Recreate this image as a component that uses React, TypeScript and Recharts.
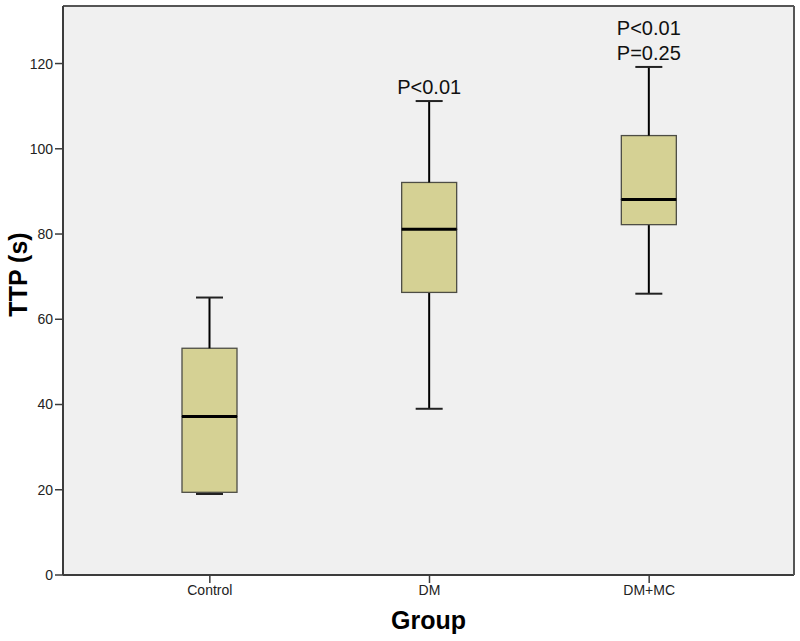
import React from "react";
import {
  ComposedChart,
  Bar,
  XAxis,
  YAxis,
  CartesianGrid,
} from "recharts";

const categories = ["Control", "DM", "DM+MC"];
const lowerWhisker = [19, 39, 66];
const q1 = [19.4, 66.3, 82.2];
const median = [37.2, 81.1, 88.1];
const q3 = [53.2, 92.1, 103.1];
const upperWhisker = [65.1, 111.2, 119.2];
const annotations: string[][] = [[], ["P<0.01"], ["P<0.01", "P=0.25"]];
const yTicks = [0, 20, 40, 60, 80, 100, 120];
const yLabel = "TTP (s)";
const xLabel = "Group";

const data = categories.map((name, i) => ({
  name,
  base: lowerWhisker[i],
  lowW: q1[i] - lowerWhisker[i],
  boxLow: median[i] - q1[i],
  boxHigh: q3[i] - median[i],
  highW: upperWhisker[i] - q3[i],
  idx: i,
}));

const FONT = "'Liberation Sans', Arial, Helvetica, sans-serif";
const BOX_FILL = "#d5d194";
const BOX_STROKE = "#4d4d45";
const CAP = 27;

const LowWhisker = (p: any) => {
  const { x, y, width, height } = p;
  if (x == null || y == null) return null;
  const cx = x + width / 2;
  const yb = y + height;
  return (
    <g>
      <line x1={cx} x2={cx} y1={y} y2={yb} stroke="#000" strokeWidth={2} />
      <line x1={cx - CAP / 2} x2={cx + CAP / 2} y1={yb} y2={yb} stroke="#222" strokeWidth={2} />
    </g>
  );
};

const BoxLow = (p: any) => {
  const { x, y, width, height } = p;
  if (x == null || y == null) return null;
  return (
    <rect x={x} y={y} width={width} height={height} fill={BOX_FILL} stroke={BOX_STROKE} strokeWidth={1.3} />
  );
};

const BoxHigh = (p: any) => {
  const { x, y, width, height } = p;
  if (x == null || y == null) return null;
  const yb = y + height;
  return (
    <g>
      <rect x={x} y={y} width={width} height={height} fill={BOX_FILL} stroke={BOX_STROKE} strokeWidth={1.3} />
      <line x1={x} x2={x + width} y1={yb} y2={yb} stroke="#000" strokeWidth={3} />
    </g>
  );
};

const HighWhisker = (p: any) => {
  const { x, y, width, height } = p;
  if (x == null || y == null) return null;
  const cx = x + width / 2;
  const idx = p.payload && p.payload.idx != null ? p.payload.idx : p.index;
  const notes = annotations[idx] || [];
  return (
    <g>
      <line x1={cx} x2={cx} y1={y} y2={y + height} stroke="#000" strokeWidth={2} />
      <line x1={cx - CAP / 2} x2={cx + CAP / 2} y1={y} y2={y} stroke="#222" strokeWidth={2} />
      {notes.map((t, k) => (
        <text
          key={k}
          x={cx}
          y={y - 7 - (notes.length - 1 - k) * 24.5}
          textAnchor="middle"
          fontFamily={FONT}
          fontSize={20}
          fill="#111"
        >
          {t}
        </text>
      ))}
    </g>
  );
};

const YLabel = (p: any) => {
  const vb = p.viewBox || {};
  const lx = (vb.x || 0) + 27;
  const ly = (vb.y || 0) + (vb.height || 0) / 2 - 16;
  return (
    <text
      x={lx}
      y={ly}
      transform={`rotate(-90 ${lx} ${ly})`}
      textAnchor="middle"
      fontFamily={FONT}
      fontSize={25}
      fontWeight="bold"
      fill="#000"
    >
      {yLabel}
    </text>
  );
};

const AXIS_COLOR = "#3c3c3c";

export default function App() {
  return (
    <div style={{ width: 800, height: 641 }}>
      <style>{"body{margin:0}"}</style>
      <ComposedChart
        width={800}
        height={641}
        data={data}
        margin={{ top: 0, right: 0, bottom: 0, left: 0 }}
        barCategoryGap={0}
      >
        <CartesianGrid horizontal={false} vertical={false} fill="#f0f0f0" />
        <XAxis
          dataKey="name"
          height={66}
          padding={{ left: 37, right: 35 }}
          tickSize={8}
          tickLine={{ stroke: AXIS_COLOR, strokeWidth: 1.5 }}
          axisLine={{ stroke: AXIS_COLOR, strokeWidth: 2 }}
          tick={{ fontFamily: FONT, fontSize: 14, fill: "#222" }}
          label={{
            value: xLabel,
            position: "insideBottom",
            offset: 12,
            style: { fontFamily: FONT, fontSize: 25, fontWeight: "bold", fill: "#000" },
          }}
        />
        <XAxis
          xAxisId="top"
          dataKey="name"
          orientation="top"
          height={6}
          tick={false}
          tickLine={false}
          padding={{ left: 37, right: 35 }}
          axisLine={{ stroke: "#555", strokeWidth: 2 }}
        />
        <YAxis
          type="number"
          domain={[0, 133.5]}
          ticks={yTicks}
          width={63}
          tickSize={8}
          tickLine={{ stroke: AXIS_COLOR, strokeWidth: 1.5 }}
          axisLine={{ stroke: AXIS_COLOR, strokeWidth: 2 }}
          tick={{ fontFamily: FONT, fontSize: 14, fill: "#222" }}
          label={{ value: yLabel, content: YLabel }}
        />
        <YAxis
          yAxisId="right"
          orientation="right"
          width={6}
          domain={[0, 133.5]}
          tick={false}
          tickLine={false}
          axisLine={{ stroke: "#555", strokeWidth: 2 }}
        />
        <Bar dataKey="base" stackId="a" barSize={55} fill="transparent" isAnimationActive={false} shape={() => null} />
        <Bar dataKey="lowW" stackId="a" barSize={55} isAnimationActive={false} shape={LowWhisker} />
        <Bar dataKey="boxLow" stackId="a" barSize={55} isAnimationActive={false} shape={BoxLow} />
        <Bar dataKey="boxHigh" stackId="a" barSize={55} isAnimationActive={false} shape={BoxHigh} />
        <Bar dataKey="highW" stackId="a" barSize={55} isAnimationActive={false} shape={HighWhisker} />
      </ComposedChart>
    </div>
  );
}
